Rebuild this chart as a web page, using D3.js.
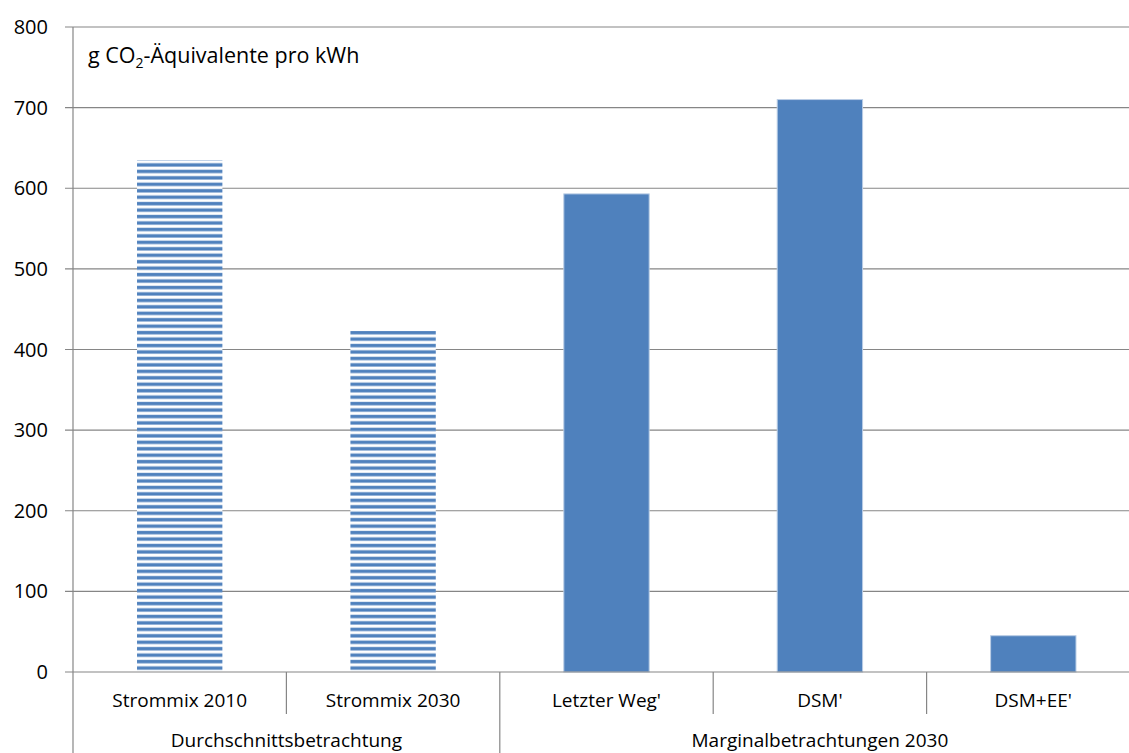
<!DOCTYPE html>
<html><head><meta charset="utf-8">
<script src="https://cdn.jsdelivr.net/npm/d3@7"></script>
<style>body{margin:0;background:#fff}svg{display:block;font-family:"Open Sans","Liberation Sans",sans-serif}</style>
</head><body>
<svg id="c" width="1129" height="753"></svg>
<script>
const categories = ["Strommix 2010","Strommix 2030","Letzter Weg'","DSM'","DSM+EE'"];
const values = [635, 423, 593, 710, 45];
const striped = [true, true, false, false, false];
const groups = [{name:"Durchschnittsbetrachtung", from:0, to:1},{name:"Marginalbetrachtungen 2030", from:2, to:4}];
const yTicks = [0,100,200,300,400,500,600,700,800];

(function(){
const svg = d3.select("#c");
const L = 73, R = 1140, T = 27, B = 672;
const x = d3.scaleBand().domain(categories).range([L, R]).paddingInner(0.6).paddingOuter(0.3);
const xb = d3.scaleBand().domain(categories).range([L, R]);
const y = d3.scaleLinear().domain([0,800]).range([B, T]);

const defs = svg.append("defs");
const pat = defs.append("pattern").attr("id","stripes").attr("patternUnits","userSpaceOnUse")
  .attr("width",10).attr("height",6.45).attr("y", B);
pat.append("rect").attr("x",0).attr("y",0).attr("width",10).attr("height",6.45).attr("fill","#fff");
pat.append("rect").attr("x",0).attr("y",0.5).attr("width",10).attr("height",4).attr("fill","#b9cde5");
pat.append("rect").attr("x",0).attr("y",1).attr("width",10).attr("height",3).attr("fill","#4f81bd");

svg.append("g").selectAll("line").data(yTicks.filter(d=>d>0)).join("line")
  .attr("x1",65).attr("x2",1129).attr("y1",d=>y(d)).attr("y2",d=>y(d))
  .attr("stroke","#868686").attr("stroke-width",1.2);

svg.append("g").selectAll("text").data(yTicks).join("text")
  .attr("x",48).attr("y",d=>y(d)).attr("dy","0.35em").attr("text-anchor","end")
  .attr("font-size",20).attr("fill","#000").text(d=>d);

svg.append("g").selectAll("rect").data(categories).join("rect")
  .attr("x",d=>x(d)).attr("width",x.bandwidth())
  .attr("y",(d,i)=>y(values[i])).attr("height",(d,i)=>y(0)-y(values[i]))
  .attr("fill",(d,i)=>striped[i]?"url(#stripes)":"#4f81bd")
  .attr("stroke",(d,i)=>striped[i]?"none":"#b9cde5").attr("stroke-width",1);

svg.append("line").attr("x1",L).attr("x2",L).attr("y1",T).attr("y2",753).attr("stroke","#868686").attr("stroke-width",1.2);
svg.append("line").attr("x1",65).attr("x2",1129).attr("y1",B).attr("y2",B).attr("stroke","#868686").attr("stroke-width",1.2);

const seps = categories.slice(1).map(c=>({x:xb(c), groupEdge: groups.some(g=>categories[g.from]===c)}));
svg.append("g").selectAll("line").data(seps).join("line")
  .attr("x1",d=>d.x).attr("x2",d=>d.x).attr("y1",B).attr("y2",d=>d.groupEdge?753:714)
  .attr("stroke","#868686").attr("stroke-width",1.2);

svg.append("g").selectAll("text").data(categories).join("text")
  .attr("x",d=>xb(d)+xb.bandwidth()/2).attr("y",700).attr("dy","0.35em").attr("text-anchor","middle")
  .attr("font-size",19).attr("fill","#000").text(d=>d);

svg.append("g").selectAll("text").data(groups).join("text")
  .attr("x",d=>(xb(categories[d.from])+xb(categories[d.to])+xb.bandwidth())/2).attr("y",740).attr("dy","0.35em")
  .attr("text-anchor","middle").attr("font-size",19).attr("fill","#000").text(d=>d.name);

const t = svg.append("text").attr("x",88).attr("y",63).attr("font-size",21.5).attr("fill","#000");
t.append("tspan").text("g CO");
t.append("tspan").attr("font-size",14).attr("dy",5).text("2");
t.append("tspan").attr("dy",-5).text("-Äquivalente pro kWh");
})();
</script>
</body></html>
